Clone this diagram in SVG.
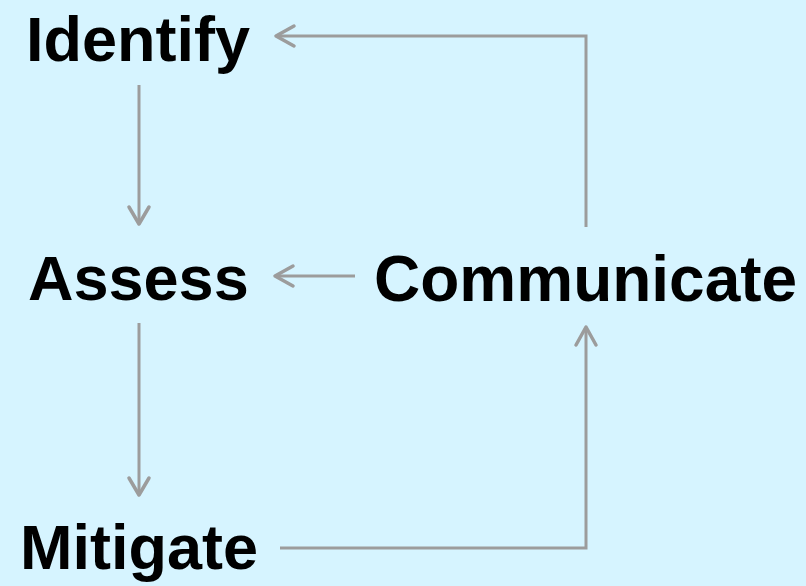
<svg xmlns="http://www.w3.org/2000/svg" width="806" height="586" viewBox="0 0 806 586">
  <style>
    .label { font-family: "Liberation Sans", Arial, sans-serif; font-weight: bold; font-size: 63px; fill: #000; }
    .wide { font-size: 64px; }
    .link { fill: none; stroke: #9c9c9c; stroke-width: 3; }
    .head { fill: none; stroke: #9c9c9c; stroke-width: 3.5; stroke-linecap: round; stroke-linejoin: round; }
  </style>
  <rect width="806" height="586" fill="#d6f4ff"/>

  <g id="connectors">
    <!-- Identify -> Assess -->
    <path class="link" d="M139 85 V223"/>
    <path class="head" d="M129 207 L139 224 L149 207"/>
    <!-- Assess -> Mitigate -->
    <path class="link" d="M139 323 V494"/>
    <path class="head" d="M129 478 L139 495 L149 478"/>
    <!-- Mitigate -> Communicate -->
    <path class="link" d="M280 548 H586 V327"/>
    <path class="head" d="M576 345 L586 327 L596 345"/>
    <!-- Communicate -> Assess -->
    <path class="link" d="M355 276 H275"/>
    <path class="head" d="M293 266 L275 276 L293 286"/>
    <!-- Communicate -> Identify -->
    <path class="link" d="M586 227 V36 H277"/>
    <path class="head" d="M294 26 L276 36 L294 46"/>
  </g>

  <g id="identify"><text class="label" x="26" y="61">Identify</text></g>
  <g id="assess"><text class="label" x="28" y="300">Assess</text></g>
  <g id="communicate"><text class="label wide" x="374" y="301">Communicate</text></g>
  <g id="mitigate"><text class="label" x="20" y="569">Mitigate</text></g>
</svg>
